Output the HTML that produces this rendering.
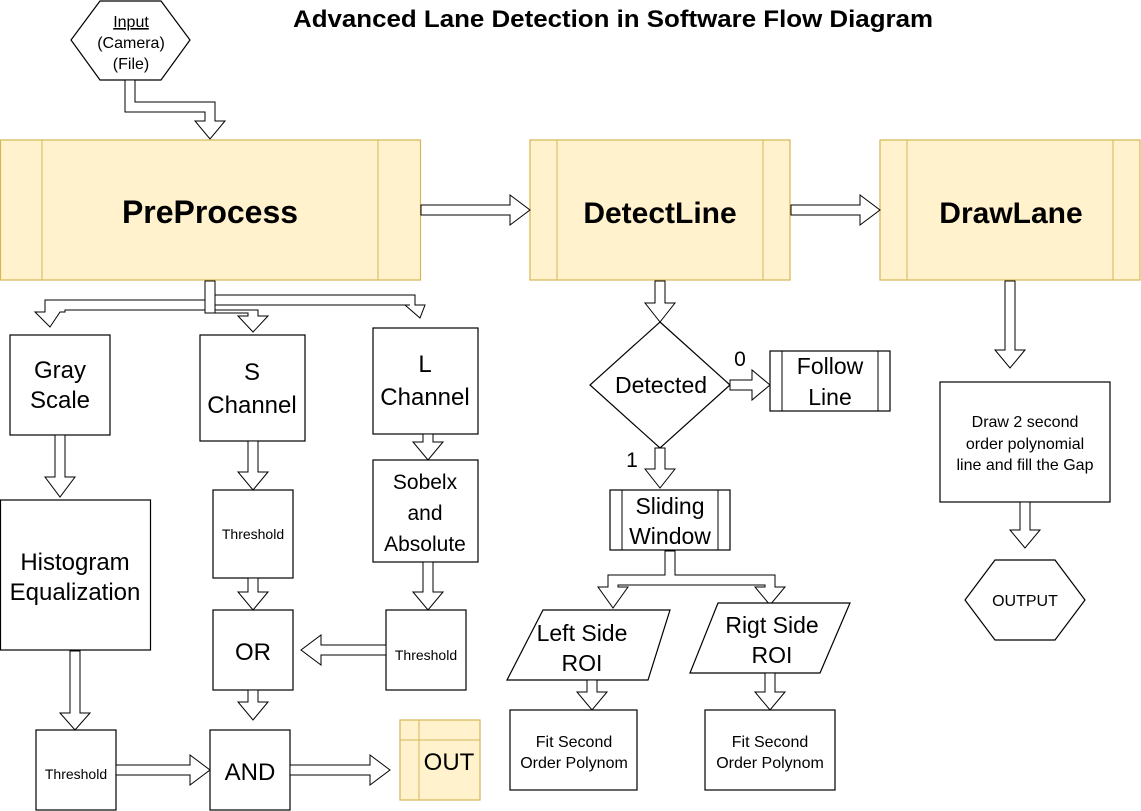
<!DOCTYPE html>
<html><head><meta charset="utf-8"><style>
html,body{margin:0;padding:0;background:#fff;}
svg{display:block;font-family:"Liberation Sans",Arial,sans-serif;}
.b{fill:#fff;stroke:#000;stroke-width:1.2;}
.y{fill:#fff2cc;stroke:#d6b656;stroke-width:1.2;}
.a{fill:#fff;stroke:#000;stroke-width:1;}
text{fill:#000;text-anchor:middle;}
</style></head><body>
<svg width="1141" height="811" viewBox="0 0 1141 811">
<text x="613" y="27" font-size="24" font-weight="bold" textLength="640" lengthAdjust="spacingAndGlyphs">Advanced Lane Detection in Software Flow Diagram</text>
<!-- input hexagon -->
<polygon class="b" points="100,1 161,1 190,40 161,80 100,80 71,40"/>
<text x="131" y="27" font-size="16" text-decoration="underline">Input</text>
<text x="131" y="48" font-size="16">(Camera)</text>
<text x="131" y="69" font-size="16">(File)</text>
<polygon class="a" points="125,80 135,80 135,102 215,102 215,121 225,121 210,139 195,121 205,121 205,112 125,112"/>
<!-- main blocks -->
<rect class="y" x="0.5" y="140" width="420" height="140"/><line x1="42" y1="140" x2="42" y2="280" stroke="#d6b656"/><line x1="378" y1="140" x2="378" y2="280" stroke="#d6b656"/>
<text x="210" y="223" font-size="32" font-weight="bold">PreProcess</text>
<rect class="y" x="530" y="140" width="260" height="140"/><line x1="557" y1="140" x2="557" y2="280" stroke="#d6b656"/><line x1="763" y1="140" x2="763" y2="280" stroke="#d6b656"/>
<text x="660" y="223" font-size="30" font-weight="bold">DetectLine</text>
<rect class="y" x="880" y="140" width="260" height="140"/><line x1="907" y1="140" x2="907" y2="280" stroke="#d6b656"/><line x1="1113" y1="140" x2="1113" y2="280" stroke="#d6b656"/>
<text x="1011" y="223" font-size="30" font-weight="bold">DrawLane</text>
<polygon class="a" points="421,205 510,205 510,195 530,210 510,225 510,215 421,215"/>
<polygon class="a" points="791,205 860,205 860,195 880,210 860,225 860,215 791,215"/>
<!-- split from preprocess -->
<polygon class="a" points="45,300 205,300 205,295 415,295 415,305 425,305 420,318 405,305 410,305 410,305 215,305 215,310 258,310 258,316 268,316 253,332 238,316 248,316 248,313 215,313 205,313 205,310 65,310 65,312 60,312 50,327 35,312 45,312"/>
<rect class="a" x="205" y="281" width="10" height="32"/>
<!-- left column -->
<rect class="b" x="10" y="335" width="100" height="100"/>
<text x="60" y="378" font-size="24">Gray</text><text x="60" y="408" font-size="24">Scale</text>
<polygon class="a" points="55,435 65,435 65,477 75,477 60,497 45,477 55,477"/>
<rect class="b" x="0.5" y="500" width="150" height="150"/>
<text x="75" y="570" font-size="24">Histogram</text><text x="75" y="600" font-size="24">Equalization</text>
<polygon class="a" points="70,651 80,651 80,713 90,713 75,730 60,713 70,713"/>
<rect class="b" x="36" y="730" width="80" height="80"/>
<text x="76" y="779" font-size="14">Threshold</text>
<polygon class="a" points="116,765 190,765 190,755 210,770 190,785 190,775 116,775"/>
<!-- S channel column -->
<rect class="b" x="200" y="335" width="105" height="106"/>
<text x="252" y="380" font-size="24">S</text><text x="252" y="413" font-size="24">Channel</text>
<polygon class="a" points="248,441 258,441 258,472 268,472 253,490 238,472 248,472"/>
<rect class="b" x="213" y="490" width="80" height="88"/>
<text x="253" y="539" font-size="14">Threshold</text>
<polygon class="a" points="248,578 258,578 258,592 268,592 253,610 238,592 248,592"/>
<rect class="b" x="213" y="610" width="80" height="80"/>
<text x="253" y="660" font-size="24">OR</text>
<polygon class="a" points="248,690 258,690 258,702 268,702 253,720 238,702 248,702"/>
<rect class="b" x="210" y="730" width="80" height="80"/>
<text x="250" y="780" font-size="24">AND</text>
<polygon class="a" points="290,765 370,765 370,755 390,770 370,785 370,775 290,775"/>
<rect class="y" x="400" y="720" width="80" height="80"/><line x1="419" y1="720" x2="419" y2="800" stroke="#d6b656"/><line x1="400" y1="740" x2="480" y2="740" stroke="#d6b656"/>
<text x="449" y="770" font-size="24">OUT</text>
<!-- L channel column -->
<rect class="b" x="373" y="328" width="105" height="106"/>
<text x="425" y="372" font-size="24">L</text><text x="425" y="405" font-size="24">Channel</text>
<polygon class="a" points="423,434 433,434 433,442 443,442 428,460 413,442 423,442"/>
<rect class="b" x="373" y="460" width="105" height="102"/>
<text x="425" y="489" font-size="21">Sobelx</text><text x="425" y="520" font-size="21">and</text><text x="425" y="551" font-size="21">Absolute</text>
<polygon class="a" points="423,562 433,562 433,592 443,592 428,610 413,592 423,592"/>
<rect class="b" x="386" y="610" width="80" height="80"/>
<text x="426" y="660" font-size="14">Threshold</text>
<polygon class="a" points="386,645 321,645 321,635 301,650 321,665 321,655 386,655"/>
<!-- detect column -->
<polygon class="a" points="655,281 665,281 665,303 675,303 660,322 645,303 655,303"/>
<polygon class="b" points="660,322 730,385 660,448 590,385"/>
<text x="661" y="393" font-size="23">Detected</text>
<text x="740" y="366" font-size="21">0</text>
<polygon class="a" points="730,380 752,380 752,370 770,385 752,400 752,390 730,390"/>
<rect class="b" x="770" y="351" width="120" height="60"/><line x1="782" y1="351" x2="782" y2="411" stroke="#000"/><line x1="878" y1="351" x2="878" y2="411" stroke="#000"/>
<text x="830" y="374" font-size="23">Follow</text><text x="830" y="405" font-size="23">Line</text>
<text x="632" y="467" font-size="21">1</text>
<polygon class="a" points="655,448 665,448 665,469 675,469 660,488 645,469 655,469"/>
<rect class="b" x="610" y="490" width="120" height="60"/><line x1="622" y1="490" x2="622" y2="550" stroke="#000"/><line x1="718" y1="490" x2="718" y2="550" stroke="#000"/>
<text x="670" y="514" font-size="23">Sliding</text><text x="670" y="544" font-size="23">Window</text>
<polygon class="a" points="608,575 665,575 665,551 675,551 675,575 775,575 775,587 785,587 770,605 755,587 765,587 765,585 618,585 618,587 628,587 613,608 598,587 608,587"/>
<polygon class="b" points="543,610 670,610 648,680 507,680"/>
<text x="582" y="641" font-size="23">Left Side</text><text x="582" y="671" font-size="23">ROI</text>
<polygon class="b" points="718,603 850,603 820,673 690,673"/>
<text x="772" y="633" font-size="23">Rigt Side</text><text x="772" y="663" font-size="23">ROI</text>
<polygon class="a" points="587,680 597,680 597,692 607,692 592,710 577,692 587,692"/>
<polygon class="a" points="765,673 775,673 775,692 785,692 770,710 755,692 765,692"/>
<rect class="b" x="510" y="710" width="127" height="80"/>
<text x="574" y="747" font-size="16">Fit Second</text><text x="574" y="768" font-size="16">Order Polynom</text>
<rect class="b" x="705" y="710" width="130" height="80"/>
<text x="770" y="747" font-size="16">Fit Second</text><text x="770" y="768" font-size="16">Order Polynom</text>
<!-- drawlane column -->
<polygon class="a" points="1005,281 1015,281 1015,350 1025,350 1010,368 995,350 1005,350"/>
<rect class="b" x="940" y="382" width="170" height="120"/>
<text x="1025" y="427" font-size="16">Draw 2 second</text><text x="1025" y="449" font-size="16">order polynomial</text><text x="1025" y="470" font-size="16">line and fill the Gap</text>
<polygon class="a" points="1020,502 1030,502 1030,530 1040,530 1025,548 1010,530 1020,530"/>
<polygon class="b" points="995,560 1055,560 1085,600 1055,640 995,640 965,600"/>
<text x="1025" y="606" font-size="16">OUTPUT</text>
</svg>
</body></html>
